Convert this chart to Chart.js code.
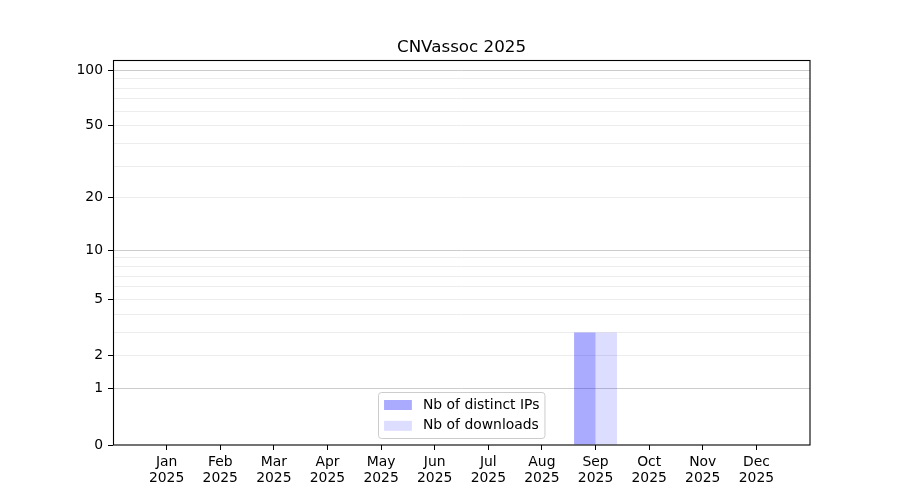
<!DOCTYPE html>
<html>
<head>
<meta charset="utf-8">
<script src="https://cdn.jsdelivr.net/npm/chart.js@4"></script>
<style>
  html, body { margin: 0; padding: 0; background: #ffffff; }
  #wrap { width: 900px; height: 500px; position: relative; }
</style>
</head>
<body>
<div id="wrap"><canvas id="c"></canvas></div>
<script>
// ---- data ----
const chartTitle = 'CNVassoc 2025';
const months = ['Jan', 'Feb', 'Mar', 'Apr', 'May', 'Jun', 'Jul', 'Aug', 'Sep', 'Oct', 'Nov', 'Dec'];
const year = '2025';
const distinctIPs = [0, 0, 0, 0, 0, 0, 0, 0, 3, 0, 0, 0];
const downloads   = [0, 0, 0, 0, 0, 0, 0, 0, 3, 0, 0, 0];
const yTickLabels = [0, 1, 2, 5, 10, 20, 50, 100];
const yMajorGrid  = [1, 10, 100];
const yMinorGrid  = [2, 3, 4, 5, 6, 7, 8, 9, 20, 30, 40, 50, 60, 70, 80, 90];
const yMaxValue = 113.3;

// log(1 + x) transform used by the reference axis
const f = v => Math.log10(1 + v);

const FONT = "'DejaVu Sans', sans-serif";
const TICK_PX = 13.9;

const gridValues = Array.from(new Set([...yTickLabels, ...yMajorGrid, ...yMinorGrid])).sort((a, b) => a - b);

const framePlugin = {
  id: 'frame',
  afterDatasetsDraw(chart) {
    const a = chart.chartArea, ctx = chart.ctx;
    ctx.save();
    ctx.strokeStyle = '#000000';
    ctx.lineWidth = 1.1;
    ctx.strokeRect(Math.round(a.left) + 0.5, Math.round(a.top) + 0.5,
                   Math.round(a.right - a.left) - 1 + 0.5, Math.round(a.bottom - a.top) - 0.5);
    ctx.restore();
  }
};

const boxLegendPlugin = {
  id: 'boxLegend',
  afterDraw(chart) {
    const a = chart.chartArea, ctx = chart.ctx;
    const fs = TICK_PX;
    const borderpad = 0.4 * fs, handleLen = 2.0 * fs, handlePad = 0.8 * fs;
    const rowStep = 20.8;
    ctx.save();
    ctx.font = fs + 'px ' + FONT;
    const sets = chart.data.datasets;
    let tw = 0;
    sets.forEach(d => { tw = Math.max(tw, ctx.measureText(d.label).width); });
    const w = 2 * borderpad + handleLen + handlePad + tw;
    const h = 46;
    const cx = (a.left + a.right) / 2;
    const x0 = Math.round(cx - w / 2) + 0.5;
    const y1 = Math.round(a.bottom - 0.5 * fs) + 0.5;
    const y0 = y1 - h;
    // frame
    const r = 3;
    ctx.beginPath();
    ctx.moveTo(x0 + r, y0);
    ctx.lineTo(x0 + w - r, y0);
    ctx.arcTo(x0 + w, y0, x0 + w, y0 + r, r);
    ctx.lineTo(x0 + w, y1 - r);
    ctx.arcTo(x0 + w, y1, x0 + w - r, y1, r);
    ctx.lineTo(x0 + r, y1);
    ctx.arcTo(x0, y1, x0, y1 - r, r);
    ctx.lineTo(x0, y0 + r);
    ctx.arcTo(x0, y0, x0 + r, y0, r);
    ctx.closePath();
    ctx.fillStyle = 'rgba(255,255,255,0.8)';
    ctx.fill();
    ctx.strokeStyle = '#cccccc';
    ctx.lineWidth = 1;
    ctx.stroke();
    // items
    ctx.textBaseline = 'middle';
    ctx.textAlign = 'left';
    sets.forEach((d, i) => {
      const cy = y0 + 12.5 + i * rowStep;
      ctx.fillStyle = d.backgroundColor;
      ctx.fillRect(x0 + borderpad, cy - 5, handleLen, 10);
      ctx.fillStyle = '#000000';
      ctx.fillText(d.label, x0 + borderpad + handleLen + handlePad, cy);
    });
    ctx.restore();
  }
};

new Chart(document.getElementById('c'), {
  type: 'bar',
  data: {
    datasets: [
      {
        label: 'Nb of distinct IPs',
        data: months.map((m, i) => ({ x: i, y: f(distinctIPs[i]) })),
        backgroundColor: 'rgba(0,0,255,0.333)',
        borderWidth: 0,
        categoryPercentage: 0.8,
        barPercentage: 1.0
      },
      {
        label: 'Nb of downloads',
        data: months.map((m, i) => ({ x: i, y: f(downloads[i]) })),
        backgroundColor: 'rgba(0,0,255,0.133)',
        borderWidth: 0,
        categoryPercentage: 0.8,
        barPercentage: 1.0
      }
    ]
  },
  options: {
    responsive: true,
    maintainAspectRatio: false,
    devicePixelRatio: 1,
    animation: false,
    layout: { padding: { left: 0, right: 90, top: 0, bottom: 0 } },
    plugins: {
      legend: { display: false },
      tooltip: { enabled: false },
      title: {
        display: true,
        fullSize: false,
        text: chartTitle,
        color: '#000000',
        font: { family: FONT, size: 16.7, weight: 'normal', lineHeight: 1.2 },
        padding: { top: 38, bottom: 2 }
      }
    },
    scales: {
      x: {
        type: 'linear',
        min: -1,
        max: 12,
        offset: false,
        afterBuildTicks: axis => { axis.ticks = months.map((m, i) => ({ value: i })); },
        afterFit: axis => { axis.height = 55; },
        grid: {
          display: true,
          offset: false,
          drawOnChartArea: false,
          drawTicks: true,
          tickLength: 5,
          tickColor: '#000000',
          tickWidth: 1
        },
        border: { display: false },
        ticks: {
          autoSkip: false,
          maxRotation: 0,
          padding: 4,
          color: '#000000',
          font: { family: FONT, size: TICK_PX, lineHeight: 1.15 },
          callback: (value) => [months[Math.round(value)], year]
        }
      },
      y: {
        type: 'linear',
        min: 0,
        max: f(yMaxValue),
        afterBuildTicks: axis => {
          axis.ticks = gridValues.map(v => ({ value: f(v), raw: v }));
        },
        afterFit: axis => { axis.width = 113; },
        grid: {
          display: true,
          drawOnChartArea: true,
          drawTicks: true,
          tickLength: 5,
          lineWidth: 1,
          color: ctx => {
            const t = ctx.tick;
            if (!t) return 'rgba(0,0,0,0)';
            if (t.raw === 0) return 'rgba(0,0,0,0)';
            if (yMajorGrid.includes(t.raw)) return '#cccccc';
            return '#ececec';
          },
          tickColor: ctx => {
            const t = ctx.tick;
            if (t && yTickLabels.includes(t.raw)) return '#000000';
            return 'rgba(0,0,0,0)';
          }
        },
        border: { display: false },
        ticks: {
          autoSkip: false,
          padding: 5,
          color: '#000000',
          font: { family: FONT, size: TICK_PX },
          callback: (value, index, ticks) => {
            const raw = ticks[index].raw;
            return yTickLabels.includes(raw) ? String(raw) : '';
          }
        }
      }
    }
  },
  plugins: [framePlugin, boxLegendPlugin]
});
</script>
</body>
</html>
